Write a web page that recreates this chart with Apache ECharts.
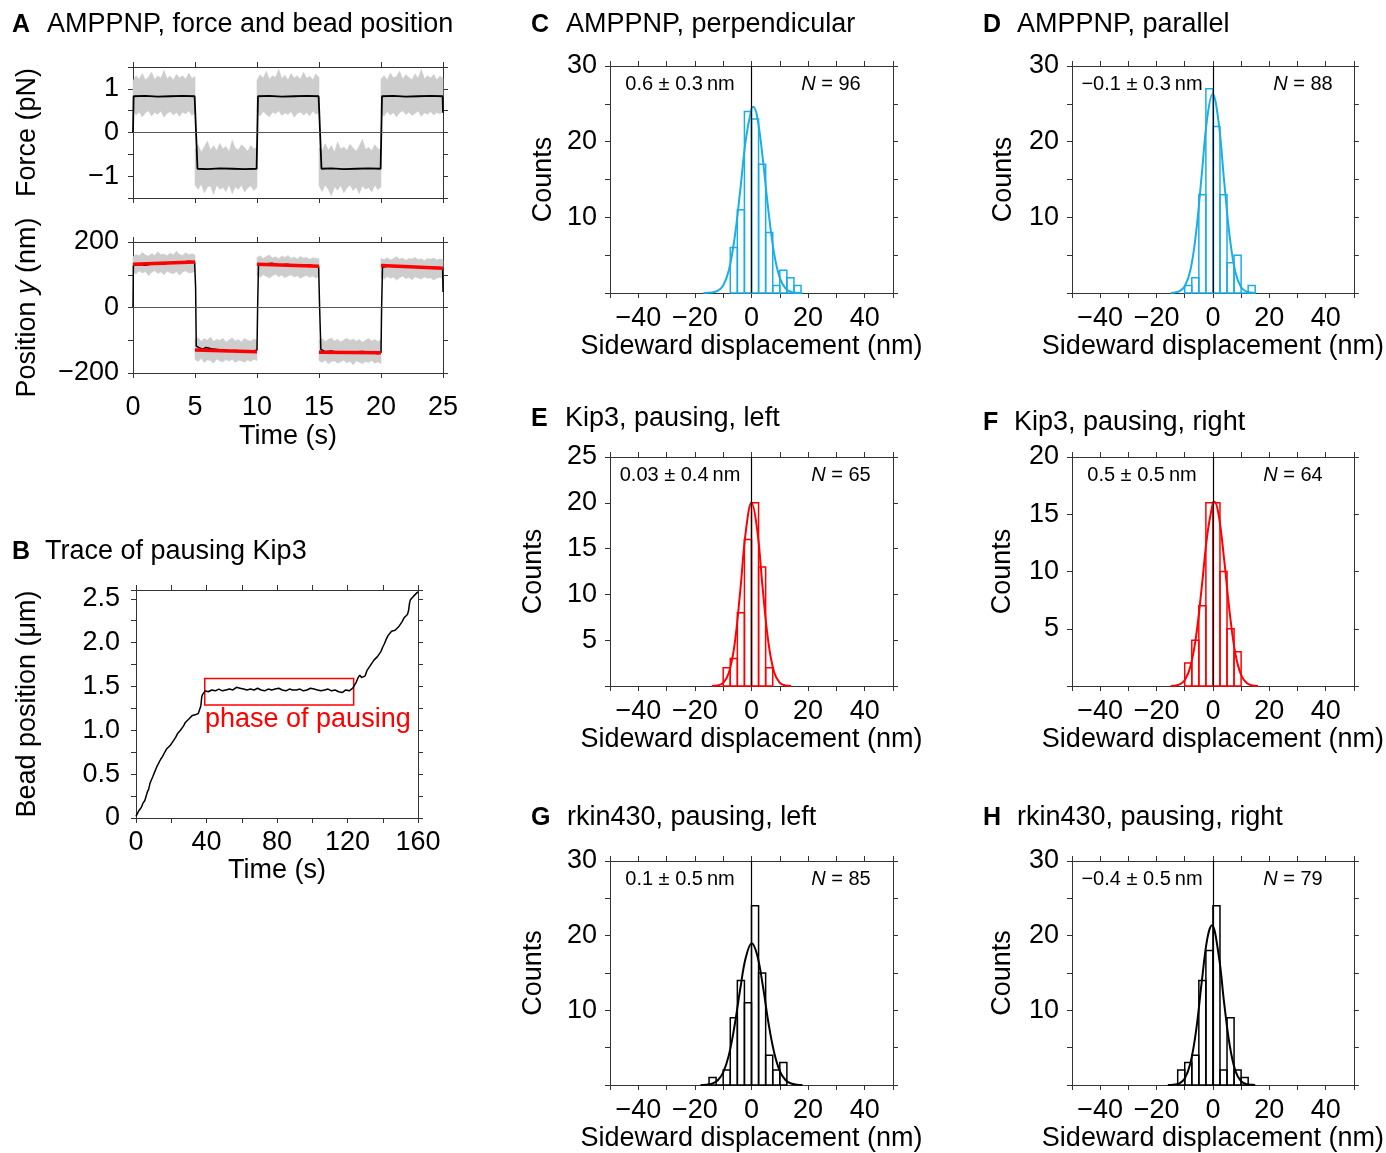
<!DOCTYPE html>
<html><head><meta charset="utf-8">
<script src="https://cdn.jsdelivr.net/npm/echarts@6/dist/echarts.min.js"></script>
<style>html,body{margin:0;padding:0;background:#fff}#c{width:1386px;height:1153px}</style>
</head><body><div id="c"></div><script>
// ---------------- DATA ----------------
// Panel A: force & position traces (time in s)
const segStarts = [0, 5, 10, 15, 20];
const noiseStep = 0.25;
const forceHi = [
 [1.18,1.3,1.22,1.35,1.2,1.27,1.38,1.21,1.3,1.24,1.42,1.23,1.29,1.2,1.33,1.25,1.3,1.22,1.36,1.24,1.28],
 [-0.4,-0.28,-0.45,-0.33,-0.2,-0.4,-0.3,-0.42,-0.25,-0.38,-0.32,-0.44,-0.18,-0.36,-0.4,-0.28,-0.35,-0.43,-0.3,-0.38,-0.33],
 [1.2,1.32,1.24,1.4,1.22,1.3,1.26,1.45,1.23,1.31,1.2,1.35,1.25,1.3,1.22,1.38,1.24,1.29,1.21,1.34,1.26],
 [-0.35,-0.42,-0.26,-0.4,-0.3,-0.45,-0.22,-0.38,-0.33,-0.41,-0.27,-0.36,-0.43,-0.31,-0.16,-0.39,-0.34,-0.42,-0.28,-0.37,-0.4],
 [1.22,1.3,1.2,1.36,1.25,1.28,1.4,1.22,1.32,1.26,1.21,1.34,1.24,1.44,1.23,1.3,1.25,1.33,1.21,1.29,1.24]
];
const forceLo = [
 [0.5,0.4,0.47,0.36,0.45,0.5,0.38,0.46,0.42,0.49,0.35,0.44,0.48,0.4,0.46,0.37,0.47,0.43,0.5,0.39,0.45],
 [-1.2,-1.3,-1.18,-1.38,-1.25,-1.22,-1.42,-1.2,-1.3,-1.26,-1.35,-1.19,-1.4,-1.24,-1.3,-1.21,-1.36,-1.27,-1.22,-1.33,-1.25],
 [0.46,0.38,0.48,0.42,0.36,0.47,0.43,0.5,0.39,0.45,0.41,0.48,0.35,0.44,0.47,0.4,0.46,0.38,0.49,0.42,0.45],
 [-1.22,-1.35,-1.2,-1.3,-1.45,-1.24,-1.32,-1.21,-1.38,-1.27,-1.2,-1.33,-1.25,-1.4,-1.22,-1.3,-1.26,-1.36,-1.2,-1.31,-1.24],
 [0.44,0.38,0.48,0.4,0.46,0.36,0.45,0.5,0.41,0.47,0.39,0.44,0.49,0.37,0.45,0.42,0.48,0.4,0.46,0.43,0.47]
];
const forceTrace = [[0,0],[0.05,0.83],[1,0.84],[2,0.82],[3,0.83],[4,0.84],[4.97,0.83],[5.2,-0.83],[6,-0.84],[7,-0.82],[8,-0.83],[9,-0.84],[9.97,-0.83],[10.08,0.83],[11,0.84],[12,0.82],[13,0.83],[14,0.84],[14.97,0.83],[15.2,-0.83],[16,-0.82],[17,-0.84],[18,-0.83],[19,-0.82],[19.97,-0.83],[20.08,0.83],[21,0.84],[22,0.82],[23,0.83],[24,0.84],[24.97,0.83],[25,0.45]];

const posHi = [
 [155,162,158,168,160,157,165,159,170,161,163,158,166,160,172,162,159,167,161,164,160],
 [-98,-92,-103,-95,-100,-90,-104,-97,-101,-94,-106,-99,-93,-102,-98,-105,-95,-100,-103,-96,-101],
 [152,158,150,156,160,151,155,149,157,153,159,150,154,148,156,151,153,147,152,150,149],
 [-100,-95,-104,-98,-93,-102,-97,-105,-99,-94,-101,-96,-103,-98,-106,-100,-95,-102,-98,-104,-99],
 [150,146,152,145,149,155,147,151,144,150,148,153,146,149,143,150,147,151,145,148,146]
];
const posLo = [
 [108,102,112,105,110,98,107,113,104,109,100,111,106,103,110,99,108,112,105,107,110],
 [-158,-165,-155,-168,-160,-162,-170,-157,-163,-166,-159,-164,-158,-168,-161,-163,-167,-160,-165,-158,-162],
 [98,92,100,95,90,97,102,94,99,91,96,100,93,97,89,95,98,92,96,90,94],
 [-162,-168,-160,-172,-165,-163,-170,-166,-161,-169,-164,-175,-163,-167,-171,-165,-168,-162,-170,-166,-172],
 [92,86,95,89,93,84,91,96,88,92,85,94,90,87,93,89,91,84,90,92,88]
];
const posTrace = [[0,0],[0.03,128],[0.5,131],[1,129],[1.5,133],[2,134],[2.5,133],[3,137],[3.5,140],[4,138],[4.5,141],[4.97,139],[5.05,60],[5.1,-118],[5.3,-122],[5.6,-127],[5.9,-122],[6.3,-126],[6.8,-128],[7.3,-130],[7.8,-132],[8.3,-131],[8.8,-134],[9.3,-133],[9.8,-132],[10,-130],[10.05,0],[10.12,128],[10.6,133],[11.2,135],[11.8,130],[12.4,132],[13,129],[13.6,128],[14.2,130],[14.7,127],[14.97,126],[15.05,0],[15.15,-128],[15.5,-135],[16,-133],[16.5,-137],[17,-136],[17.5,-138],[18,-135],[18.5,-134],[19,-136],[19.4,-139],[19.8,-141],[20,-137],[20.05,0],[20.12,123],[20.6,127],[21.2,125],[21.8,126],[22.4,123],[23,124],[23.6,122],[24.2,121],[24.7,122],[24.97,120],[25,47]];
const posFitStart = [132, -130, 132, -137, 128];
const posFitEnd = [139, -135, 126, -138, 120];
const segDuration = 5;

// Panel B: pausing Kip3 trace (time s, position µm)
const bTrace = [[0,0.02],[0.8,0.05],[1.5,0.08],[2.2,0.06],[3,0.12],[4,0.17],[5,0.2],[5.8,0.22],[6.5,0.3],[7.2,0.33],[8,0.4],[8.8,0.42],[9.5,0.47],[10.5,0.52],[11.5,0.57],[12.2,0.6],[13,0.62],[14,0.67],[15,0.7],[15.8,0.73],[16.8,0.75],[17.5,0.79],[18.5,0.81],[19.5,0.83],[20.5,0.86],[21.5,0.88],[22.5,0.92],[23.5,0.96],[24.3,0.98],[25.2,1.0],[26,1.0],[27,1.05],[28,1.09],[29,1.1],[30,1.13],[31,1.14],[32,1.17],[33,1.17],[34,1.18],[35.3,1.19],[36,1.2],[36.8,1.28],[37.3,1.38],[37.8,1.41],[38.5,1.42],[39.3,1.45],[41,1.44],[43,1.46],[45,1.45],[47,1.47],[49,1.45],[51,1.46],[53,1.47],[55,1.46],[57,1.49],[59,1.48],[61,1.47],[63,1.46],[65,1.47],[67,1.46],[69,1.48],[71,1.46],[73,1.45],[75,1.47],[77,1.46],[79,1.47],[81,1.48],[83,1.46],[85,1.45],[87,1.47],[89,1.46],[91,1.46],[93,1.47],[95,1.45],[97,1.46],[99,1.48],[101,1.47],[103,1.46],[105,1.45],[107,1.46],[109,1.47],[111,1.45],[113,1.46],[115,1.44],[117,1.43],[118,1.44],[119,1.46],[120,1.44],[121,1.45],[122,1.46],[123,1.48],[124,1.5],[125,1.55],[126,1.6],[127,1.63],[128,1.6],[129,1.58],[130,1.62],[131,1.68],[132,1.7],[133,1.74],[134,1.76],[135,1.8],[136,1.81],[137,1.84],[138,1.86],[139,1.9],[140,1.95],[141,1.99],[142,2.04],[143,2.08],[144,2.1],[145,2.13],[146,2.14],[147,2.14],[148,2.16],[149,2.18],[150,2.2],[151,2.24],[152,2.28],[153,2.3],[154,2.32],[154.6,2.36],[155.2,2.45],[155.7,2.49],[156.5,2.5],[157.5,2.53],[158.5,2.55],[159.5,2.57],[160,2.58]];
const pauseBox = [[39, 1.29], [123.5, 1.59]];

// Histograms: bin left edges (nm), counts, Gaussian fit curve points
const binWidth = 2.5;
const cBins = [-7.5,-5,-2.5,0,2.5,5,7.5,10,12.5,15];
const cCounts = [6,11,24,23,17,8,1,3,2,1];
const cFit = [[-17,0.01],[-14,0.06],[-12,0.27],[-10,1.0],[-8,3.0],[-6,7.2],[-4,13.5],[-2,20.3],[0,24.35],[0.6,24.6],[2,23.3],[4,17.7],[6,10.8],[8,5.2],[10,2.0],[12,0.62],[14,0.15],[16,0.03],[18,0.01]];
const dBins = [-10,-7.5,-5,-2.5,0,2.5,5,7.5,10,12.5];
const dCounts = [1,2,13,27,22,13,4,5,0,1];
const dFit = [[-15,0.01],[-14,0.03],[-12,0.2],[-10,0.88],[-8,3.0],[-6,7.9],[-4,15.5],[-2,23.2],[-0.1,26.3],[2,22.6],[4,14.7],[6,7.3],[8,2.7],[10,0.77],[12,0.17],[14,0.03],[15,0.01]];
const eBins = [-10,-7.5,-5,-2.5,0,2.5,5];
const eCounts = [2,3,8,16,20,13,2];
const eFit = [[-14,0.01],[-12,0.06],[-10,0.34],[-8,1.44],[-6,4.5],[-4,10.3],[-2,16.9],[0,20],[2,17.1],[4,10.5],[6,4.7],[8,1.5],[10,0.35],[12,0.06],[14,0.01]];
const fBins = [-10,-7.5,-5,-2.5,0,2.5,5,7.5];
const fCounts = [2,4,7,16,16,10,5,3];
const fFit = [[-15,0.01],[-14,0.02],[-12,0.12],[-10,0.51],[-8,1.68],[-6,4.3],[-4,8.55],[-2,13.2],[0,16.0],[0.5,16.1],[2,15.0],[4,11.0],[6,6.3],[8,2.77],[10,0.96],[12,0.26],[14,0.05],[16,0.01]];
const gBins = [-15,-12.5,-10,-7.5,-5,-2.5,0,2.5,5,7.5,10];
const gCounts = [1,0,2,9,14,11,24,15,4,2,3];
const gFit = [[-18,0.01],[-16,0.04],[-14,0.17],[-12,0.6],[-10,1.7],[-8,4.0],[-6,7.9],[-4,12.8],[-2,17.1],[0.1,19.0],[2,17.4],[4,13.3],[6,8.3],[8,4.35],[10,1.87],[12,0.67],[14,0.2],[16,0.05],[18,0.01]];
const hBins = [-12.5,-10,-7.5,-5,-2.5,0,2.5,5,7.5,10];
const hCounts = [2,3,4,14,18,24,2,9,2,1];
const hFit = [[-16,0.01],[-14,0.04],[-12,0.2],[-10,0.88],[-8,2.9],[-6,7.2],[-4,13.7],[-2,19.6],[-0.4,21.4],[2,17.5],[4,10.9],[6,5.2],[8,1.86],[10,0.5],[12,0.1],[14,0.02],[15,0.01]];
const statText = {C:'0.6 \u00b1 0.3\u2009nm', D:'\u22120.1 \u00b1 0.3\u2009nm', E:'0.03 \u00b1 0.4\u2009nm', F:'0.5 \u00b1 0.5\u2009nm', G:'0.1 \u00b1 0.5\u2009nm', H:'\u22120.4 \u00b1 0.5\u2009nm'};
const nValues = {C:96, D:88, E:65, F:64, G:85, H:79};

// tick labels
const histXLabels = [-40,-20,0,20,40];
const timeALabels = [0,5,10,15,20,25];
const timeBLabels = [0,40,80,120,160];
const forceLabels = [-1,0,1];
const posLabels = [-200,0,200];
const beadLabels = [0,0.5,1.0,1.5,2.0,2.5];

// ---------------- BUILD ----------------
const FONT = '"Liberation Sans", Arial, Helvetica, sans-serif';
const FS = 27;
const AX = '#333';
const BLUE = '#1aaee8';
const RED = '#ff0000';
const MINUS = '\u2212';
const grids = [], xAxes = [], yAxes = [], series = [], graphics = [];

function numFmt(v, dec) {
  const s = dec ? Math.abs(v).toFixed(dec) : String(Math.abs(v));
  return (v < 0 ? MINUS : '') + s;
}
function labelFormatter(list, fmt) {
  return v => list.some(l => Math.abs(l - v) < 1e-6) ? fmt(v) : '';
}
function axisBase(extra) {
  return Object.assign({
    type: 'value', scale: false,
    axisLine: {show: true, onZero: false, lineStyle: {color: AX, width: 1}},
    axisTick: {show: true, inside: false, length: 5, lineStyle: {color: AX, width: 1}},
    splitLine: {show: false},
    axisLabel: {show: false}
  }, extra);
}
function addGrid(g) {
  const gi = grids.length;
  grids.push({left: g.left, top: g.top, width: g.width, height: g.height});
  const xi = xAxes.length, yi = yAxes.length;
  const xl = g.x.labels ? {show: true, fontSize: FS, fontFamily: FONT, color: '#000', margin: g.x.margin,
      formatter: labelFormatter(g.x.labels, g.x.fmt || (v => numFmt(v)))} : {show: false};
  xAxes.push(axisBase({gridIndex: gi, position: 'bottom', min: g.x.min, max: g.x.max, interval: g.x.interval,
    axisLabel: xl, name: g.x.name || '', nameLocation: 'middle', nameGap: g.x.nameGap || 0,
    nameTextStyle: {fontSize: FS, fontFamily: FONT, color: '#000'}}));
  xAxes.push(axisBase({gridIndex: gi, position: 'top', min: g.x.min, max: g.x.max, interval: g.x.interval}));
  const yl = {show: true, fontSize: FS, fontFamily: FONT, color: '#000', margin: g.y.margin,
      formatter: labelFormatter(g.y.labels, g.y.fmt || (v => numFmt(v)))};
  yAxes.push(axisBase({gridIndex: gi, position: 'left', min: g.y.min, max: g.y.max, interval: g.y.interval,
    axisLabel: yl, name: g.y.name || '', nameLocation: 'middle', nameGap: g.y.nameGap || 0,
    nameTextStyle: Object.assign({fontSize: FS, fontFamily: FONT, color: '#000'}, g.y.nameStyle || {})}));
  yAxes.push(axisBase({gridIndex: gi, position: 'right', min: g.y.min, max: g.y.max, interval: g.y.interval}));
  return {xi, yi};
}
function bandSeries(ax, hi, lo) {
  return {
    type: 'custom', xAxisIndex: ax.xi, yAxisIndex: ax.yi, z: 1, silent: true,
    data: segStarts.map((s, i) => [s, i]), encode: {x: 0, y: 1},
    renderItem: (params, api) => {
      const i = params.dataIndex, t0 = segStarts[i];
      const pts = [];
      hi[i].forEach((v, k) => pts.push(api.coord([t0 + k * noiseStep, v])));
      for (let k = lo[i].length - 1; k >= 0; k--) pts.push(api.coord([t0 + k * noiseStep, lo[i][k]]));
      return {type: 'polygon', shape: {points: pts}, style: {fill: '#cdcdcd', stroke: '#cdcdcd', lineWidth: 0.6}};
    }
  };
}

// Panel A force
const axF = addGrid({left: 133, top: 67, width: 310, height: 131,
  x: {min: 0, max: 25, interval: 5},
  y: {min: -1.5, max: 1.5, interval: 0.5, labels: forceLabels, margin: 14, name: 'Force (pN)', nameGap: 92}});
series.push(bandSeries(axF, forceHi, forceLo));
series.push({type: 'line', xAxisIndex: axF.xi, yAxisIndex: axF.yi, data: forceTrace, showSymbol: false, z: 3,
  lineStyle: {color: '#000', width: 1.8},
  markLine: {silent: true, symbol: 'none', label: {show: false}, lineStyle: {color: '#555', width: 1, type: 'solid'}, data: [{yAxis: 0}]}});

// Panel A position
const axP = addGrid({left: 133, top: 242, width: 310, height: 131,
  x: {min: 0, max: 25, interval: 5, labels: timeALabels, margin: 21, name: 'Time (s)', nameGap: 50},
  y: {min: -200, max: 200, interval: 100, labels: posLabels, margin: 14,
      name: '{n|Position }{i|y}{n| (nm)}', nameGap: 92,
      nameStyle: {rich: {n: {fontSize: FS, fontFamily: FONT, color: '#000'}, i: {fontSize: FS, fontFamily: FONT, fontStyle: 'italic', color: '#000'}}}}});
series.push(bandSeries(axP, posHi, posLo));
series.push({type: 'line', xAxisIndex: axP.xi, yAxisIndex: axP.yi, data: posTrace, showSymbol: false, z: 3,
  lineStyle: {color: '#000', width: 1.5},
  markLine: {silent: true, symbol: 'none', label: {show: false}, lineStyle: {color: '#555', width: 1, type: 'solid'}, data: [{yAxis: 0}]}});
segStarts.forEach((s, i) => {
  series.push({type: 'line', xAxisIndex: axP.xi, yAxisIndex: axP.yi, showSymbol: false, z: 4,
    data: [[s, posFitStart[i]], [s + segDuration, posFitEnd[i]]], lineStyle: {color: RED, width: 3.5}});
});

// Panel B
const axB = addGrid({left: 136, top: 590, width: 282, height: 228,
  x: {min: 0, max: 160, interval: 20, labels: timeBLabels, margin: 11, name: 'Time (s)', nameGap: 37},
  y: {min: 0, max: 2.6, interval: 0.25, labels: beadLabels, margin: 16, fmt: v => v === 0 ? '0' : v.toFixed(1),
      name: 'Bead position (\u03bcm)', nameGap: 95}});
series.push({type: 'line', xAxisIndex: axB.xi, yAxisIndex: axB.yi, data: bTrace, showSymbol: false, z: 3,
  lineStyle: {color: '#000', width: 1.5},
  markArea: {silent: true, itemStyle: {color: 'rgba(0,0,0,0)', borderColor: RED, borderWidth: 1.5},
    data: [[{coord: pauseBox[0]}, {coord: pauseBox[1]}]]}});

// Histograms
const histDefs = [
  {k: 'C', left: 610, top: 66, h: 227, yMax: 30, yInt: 5, yLab: [10,20,30], bins: cBins, counts: cCounts, fit: cFit, color: BLUE, yGap: 53, statX: 680, nX: 831},
  {k: 'D', left: 1072, top: 66, h: 227, yMax: 30, yInt: 5, yLab: [10,20,30], bins: dBins, counts: dCounts, fit: dFit, color: BLUE, yGap: 55, statX: 1142, nX: 1303},
  {k: 'E', left: 610, top: 457, h: 229, yMax: 25, yInt: 5, yLab: [5,10,15,20,25], bins: eBins, counts: eCounts, fit: eFit, color: RED, yGap: 63, statX: 680, nX: 841},
  {k: 'F', left: 1072, top: 457, h: 229, yMax: 20, yInt: 5, yLab: [5,10,15,20], bins: fBins, counts: fCounts, fit: fFit, color: RED, yGap: 56, statX: 1142, nX: 1293},
  {k: 'G', left: 610, top: 861, h: 227, yMax: 30, yInt: 5, yLab: [10,20,30], bins: gBins, counts: gCounts, fit: gFit, color: '#000', yGap: 63, statX: 680, nX: 841},
  {k: 'H', left: 1072, top: 861, h: 227, yMax: 30, yInt: 5, yLab: [10,20,30], bins: hBins, counts: hCounts, fit: hFit, color: '#000', yGap: 56, statX: 1142, nX: 1293}
];
histDefs.forEach(d => {
  const ax = addGrid({left: d.left, top: d.top, width: 283, height: d.h,
    x: {min: -50, max: 50, interval: 10, labels: histXLabels, margin: 12, name: 'Sideward displacement (nm)', nameGap: 40},
    y: {min: 0, max: d.yMax, interval: d.yInt, labels: d.yLab, margin: 13, name: 'Counts', nameGap: d.yGap}});
  const col = d.color;
  series.push({type: 'custom', xAxisIndex: ax.xi, yAxisIndex: ax.yi, z: 2, silent: true,
    data: d.bins.map((b, i) => [b, b + binWidth, d.counts[i]]), encode: {x: [0, 1], y: 2},
    renderItem: (params, api) => {
      const p0 = api.coord([api.value(0), api.value(2)]);
      const p1 = api.coord([api.value(1), 0]);
      return {type: 'rect', shape: {x: p0[0], y: p0[1], width: p1[0] - p0[0], height: p1[1] - p0[1]},
        style: {fill: 'rgba(255,255,255,0)', stroke: col, lineWidth: 1.5}};
    }});
  series.push({type: 'line', xAxisIndex: ax.xi, yAxisIndex: ax.yi, data: d.fit, smooth: 0.4, showSymbol: false, z: 3,
    lineStyle: {color: col, width: 2},
    markLine: {silent: true, symbol: 'none', label: {show: false}, lineStyle: {color: '#000', width: 1.2, type: 'solid'}, data: [{xAxis: 0}]}});
  graphics.push({type: 'text', x: d.statX, y: d.top + 18, style: {text: statText[d.k], font: '20px ' + FONT, fill: '#000', textAlign: 'center', textVerticalAlign: 'middle'}});
  graphics.push({type: 'text', x: d.nX, y: d.top + 18, style: {text: '{i|N}{r| = ' + nValues[d.k] + '}', textAlign: 'center', textVerticalAlign: 'middle',
    rich: {i: {font: 'italic 20px ' + FONT, fill: '#000'}, r: {font: '20px ' + FONT, fill: '#000'}}}});
});

// Panel titles
const titles = [
  {l: 'A', t: 'AMPPNP, force and bead position', x: 12, tx: 47, y: 25},
  {l: 'B', t: 'Trace of pausing Kip3', x: 12, tx: 45, y: 552},
  {l: 'C', t: 'AMPPNP, perpendicular', x: 531, tx: 566, y: 25},
  {l: 'D', t: 'AMPPNP, parallel', x: 983, tx: 1017, y: 25},
  {l: 'E', t: 'Kip3, pausing, left', x: 531, tx: 565, y: 419},
  {l: 'F', t: 'Kip3, pausing, right', x: 983, tx: 1014, y: 423},
  {l: 'G', t: 'rkin430, pausing, left', x: 531, tx: 567, y: 818},
  {l: 'H', t: 'rkin430, pausing, right', x: 983, tx: 1017, y: 818}
];
titles.forEach(o => {
  graphics.push({type: 'text', x: o.x, y: o.y, style: {text: o.l, font: 'bold 25px ' + FONT, fill: '#000', textVerticalAlign: 'middle'}});
  graphics.push({type: 'text', x: o.tx, y: o.y, style: {text: o.t, font: FS + 'px ' + FONT, fill: '#000', textVerticalAlign: 'middle'}});
});
graphics.push({type: 'text', x: 205, y: 720, style: {text: 'phase of pausing', font: '27px ' + FONT, fill: RED, textVerticalAlign: 'middle'}});

const chart = echarts.init(document.getElementById('c'), null, {renderer: 'canvas'});
chart.setOption({
  animation: false,
  backgroundColor: '#fff',
  textStyle: {fontFamily: FONT},
  grid: grids, xAxis: xAxes, yAxis: yAxes, series: series, graphic: graphics
});
</script></body></html>
